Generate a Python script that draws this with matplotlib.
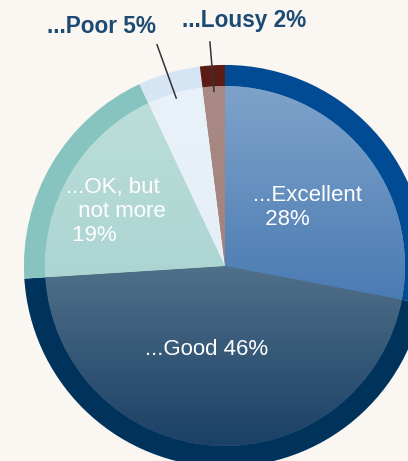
import numpy as np
import matplotlib.pyplot as plt
from matplotlib.colors import LinearSegmentedColormap

# survey answers, clockwise from 12 o'clock
labels = ["...Excellent\n  28%", "...Good 46%", "...OK, but\n  not more\n 19%", "...Poor 5%", "...Lousy 2%"]
shares = [28, 46, 19, 5, 2]

ring_colors = ["#004b93", "#00335c", "#87c4bf", "#d6e5f3", "#5c1b15"]
fill_top = ["#7ea3ca", "#517089", "#bcdeda", "#e9f1f9", "#a98a84"]
fill_bottom = ["#4a7bb3", "#1a4066", "#acd5d1", "#e6eef7", "#a3827b"]

bg = "#faf7f3"
label_blue = "#1b4a72"

fig = plt.figure(figsize=(4.08, 4.61), dpi=100, facecolor=bg)
ax = fig.add_axes([0, 0, 1, 1])
ax.set_facecolor(bg)
ax.set_aspect("equal")
ax.axis("off")

# outer dark ring
ax.pie(shares, radius=1.0, startangle=90, counterclock=False,
       colors=ring_colors, wedgeprops=dict(linewidth=0))

# lighter inner wedges, each with its own top-to-bottom gradient
inner, _ = ax.pie(shares, radius=0.895, startangle=90, counterclock=False,
                  colors=fill_top, wedgeprops=dict(linewidth=0))
for w, top, bot in zip(inner, fill_top, fill_bottom):
    verts = w.get_patch_transform().transform(w.get_path().vertices)
    y0, y1 = verts[:, 1].min(), verts[:, 1].max()
    cmap = LinearSegmentedColormap.from_list("g", [bot, top])
    grad = np.linspace(0, 1, 256).reshape(-1, 1)
    im = ax.imshow(grad, cmap=cmap, origin="lower", aspect="auto",
                   extent=(-0.9, 0.9, y0, y1), zorder=w.get_zorder() + 0.1)
    im.set_clip_path(w)

ax.set_xlim(-1.119, 0.910)
ax.set_ylim(-0.970, 1.323)

# boundary angles of each slice
ends = 90 - np.cumsum(shares) / 100 * 360
starts = np.concatenate([[90], ends[:-1]])
mids = np.radians((starts + ends) / 2)

font = "Liberation Sans"

# labels inside the big slices
inside = {0: (0.139, 0.291, "left"), 1: (-0.09, -0.413, "center"), 2: (-0.791, 0.271, "left")}
for i, (x, y, ha) in inside.items():
    ax.text(x, y, labels[i], color="white", fontsize=16, family=font,
            ha=ha, va="center", linespacing=1.2, zorder=5)

# small slices get labels outside with leader lines
outside = {3: (-0.612, 1.159, -0.338, 1.10), 4: (0.095, 1.189, -0.075, 1.114)}
for i, (tx, ty, lx, ly) in outside.items():
    r = 0.87
    px, py = r * np.cos(mids[i]), r * np.sin(mids[i])
    ax.plot([lx, px], [ly, py], color="#333333", lw=1.1, zorder=6)
    ax.text(tx, ty, labels[i], color=label_blue, fontsize=16.3, family=font,
            fontweight="bold", ha="center", va="baseline", zorder=6)

fig.savefig("out.png", dpi=100, facecolor=bg)
